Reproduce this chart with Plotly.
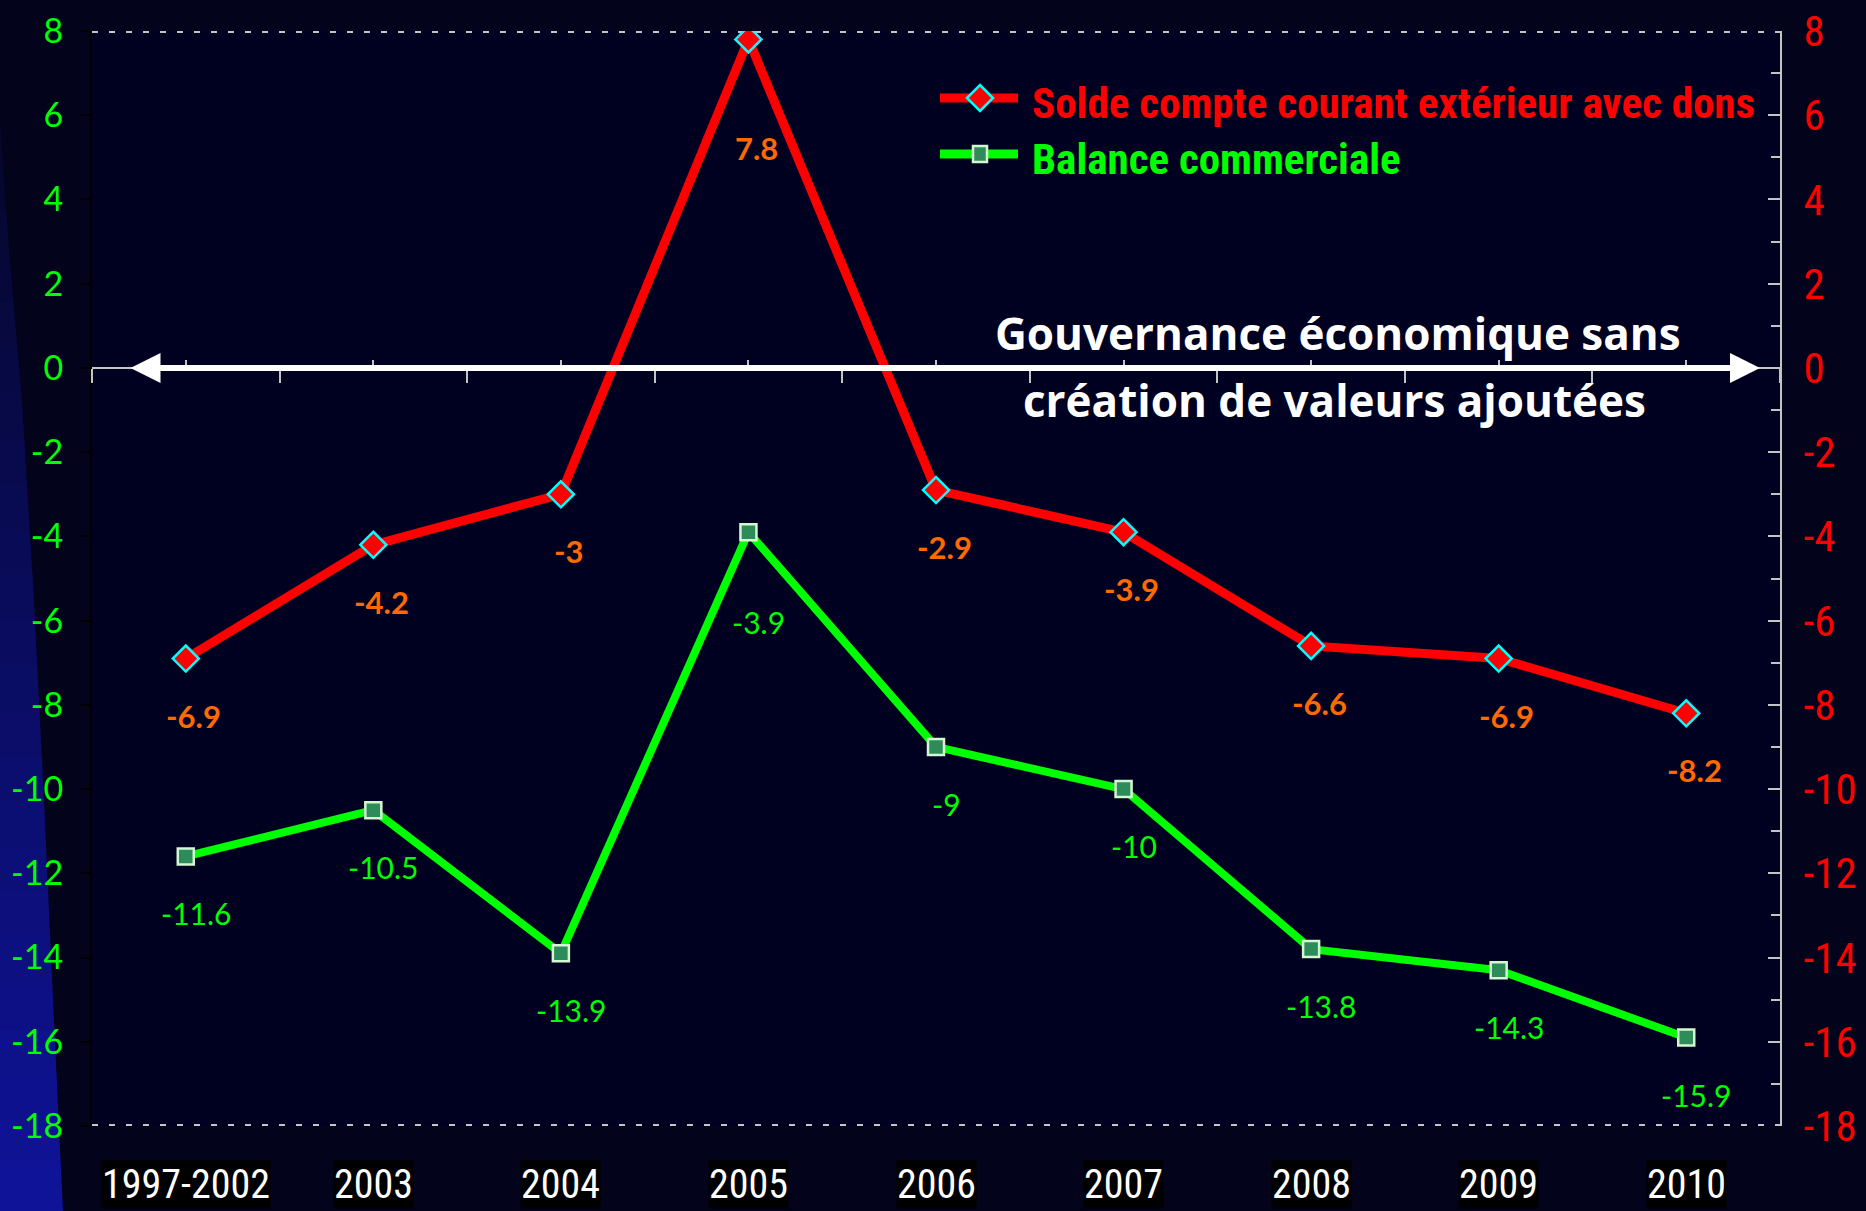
import plotly.graph_objects as go

# data
categories = ['1997-2002', '2003', '2004', '2005', '2006', '2007', '2008', '2009', '2010']
solde_courant = [-6.9, -4.2, -3, 7.8, -2.9, -3.9, -6.6, -6.9, -8.2]
balance_commerciale = [-11.6, -10.5, -13.9, -3.9, -9, -10, -13.8, -14.3, -15.9]
y_ticks = [-18, -16, -14, -12, -10, -8, -6, -4, -2, 0, 2, 4, 6, 8]
y_tick_text = ['-18', '-16', '-14', '-12', '-10', '-8', '-6', '-4', '-2', '0', '2', '4', '6', '8']

name_solde = 'Solde compte courant extérieur avec dons'
name_balance = 'Balance commerciale'
title_lines = ['Gouvernance économique sans', 'création de valeurs ajoutées']

# page geometry
W, H = 1866, 1211
L, R, T, B = 92, 86, 31, 85
PW, PH = W - L - R, H - T - B

NARROW = 'Liberation Sans Narrow, Arial Narrow, Roboto Condensed, sans-serif'
RED = '#FF0000'
GREEN = '#00FF00'
ORANGE = '#FF6A00'
GREY = '#C4C4C4'
CYAN = '#00FFFF'
SQ_FILL = '#2E8B5A'
SQ_EDGE = '#D2F7D2'

y_range = [min(y_ticks), max(y_ticks)]
x_range = [-0.5, len(categories) - 0.5]


def px_x(px):
    return (px - L) / PW


def px_y(py):
    return (H - B - py) / PH


zero_pos = (0 - y_range[0]) / (y_range[1] - y_range[0])

fig = go.Figure()

fig.add_trace(go.Scatter(
    x=categories, y=balance_commerciale, name=name_balance,
    mode='lines+markers',
    line=dict(color=GREEN, width=8),
    marker=dict(symbol='square', size=16, color=SQ_FILL,
                line=dict(color=SQ_EDGE, width=2.5)),
    showlegend=False,
))
fig.add_trace(go.Scatter(
    x=categories, y=solde_courant, name=name_solde,
    xaxis='x2', yaxis='y2',
    mode='lines+markers',
    line=dict(color=RED, width=9),
    marker=dict(symbol='diamond', size=20, color=RED,
                line=dict(color=CYAN, width=2.5)),
    showlegend=False,
))

annotations = []

# data labels
for i, v in enumerate(solde_courant):
    annotations.append(dict(
        x=i, y=v, xref='x2', yref='y2', text=f'{v:g}', showarrow=False,
        xanchor='center', yanchor='middle',
        xshift=8, yshift=-109 if v == max(solde_courant) else -57,
        font=dict(family='Lato', size=31, color=ORANGE, weight='bold'),
    ))
for i, v in enumerate(balance_commerciale):
    annotations.append(dict(
        x=i, y=v, xref='x', yref='y', text=f'{v:g}', showarrow=False,
        xanchor='center', yanchor='middle',
        xshift=10, yshift=-90 if v == max(balance_commerciale) else -57,
        font=dict(family='Lato', size=30, color=GREEN),
    ))

# category labels on black boxes at the bottom
for i, c in enumerate(categories):
    annotations.append(dict(
        x=i, y=0, xref='x', yref='paper', xanchor='center', yanchor='top', yshift=-34,
        text=c, showarrow=False, bgcolor='black', borderpad=0,
        font=dict(family=NARROW, size=40, color='white'),
    ))

# title text over the zero line
for line, (cx, cy) in zip(title_lines, [(1338, 333), (1334, 400)]):
    annotations.append(dict(
        x=px_x(cx), y=px_y(cy), xref='paper', yref='paper',
        xanchor='center', yanchor='middle',
        text=f'<b>{line}</b>', showarrow=False,
        font=dict(family='Open Sans', size=44, color='white'),
    ))

# double-headed white arrow along zero
annotations.append(dict(
    xref='x domain', yref='y', axref='x domain', ayref='y',
    x=px_x(1760), y=0, ax=px_x(129), ay=0, text='',
    showarrow=True, arrowside='end+start', arrowhead=2, arrowsize=1,
    arrowwidth=6, arrowcolor='white', standoff=0, startstandoff=0,
))

shapes = []

# dotted frame at top and bottom
for yv in y_range:
    shapes.append(dict(
        type='line', xref='paper', yref='y', x0=0, x1=1, y0=yv, y1=yv,
        line=dict(color=GREY, width=4, dash='6px,11px'), layer='below',
    ))

# legend drawn by hand: long line, centred symbol, coloured bold label
legend_items = [
    (name_solde, RED, 98, 'M -13 0 L 0 13 L 13 0 L 0 -13 Z', RED, CYAN),
    (name_balance, GREEN, 154, 'M -7 -8 L 7 -8 L 7 8 L -7 8 Z', SQ_FILL, SQ_EDGE),
]
for label, col, ly, sym, fill, edge_col in legend_items:
    shapes.append(dict(
        type='line', xref='paper', yref='paper',
        x0=px_x(940), x1=px_x(1018), y0=px_y(ly), y1=px_y(ly),
        line=dict(color=col, width=9),
    ))
    shapes.append(dict(
        type='path', xref='paper', yref='paper',
        xsizemode='pixel', ysizemode='pixel',
        xanchor=px_x(980), yanchor=px_y(ly), path=sym,
        fillcolor=fill, line=dict(color=edge_col, width=2.5),
    ))
    annotations.append(dict(
        x=px_x(1030), y=px_y(ly + 5), xref='paper', yref='paper',
        xanchor='left', yanchor='middle', showarrow=False,
        text=f'<b>{label}</b>',
        font=dict(family=NARROW, size=43, color=col),
    ))

# blue band on the left edge of the slide
edge = [(120, 0), (250, 9), (400, 22), (600, 34), (800, 44), (1000, 53), (1211, 63)]
top_rgb = (6, 7, 45)
bot_rgb = (15, 19, 152)
steps = 24
y_top, y_bot = edge[0][0], edge[-1][0]


def edge_x(py):
    for (ya, xa), (yb, xb) in zip(edge[:-1], edge[1:]):
        if ya <= py <= yb:
            return xa + (xb - xa) * (py - ya) / (yb - ya)
    return edge[-1][1]


for k in range(steps):
    ya = y_top + (y_bot - y_top) * k / steps
    yb = y_top + (y_bot - y_top) * (k + 1) / steps + 1
    t = k / (steps - 1)
    col = 'rgb({},{},{})'.format(*[int(a + (b - a) * t) for a, b in zip(top_rgb, bot_rgb)])
    path = 'M {} {} L {} {} L {} {} L {} {} Z'.format(
        px_x(0), px_y(ya), px_x(edge_x(ya)), px_y(ya),
        px_x(edge_x(yb)), px_y(yb), px_x(0), px_y(yb))
    shapes.append(dict(type='path', xref='paper', yref='paper', path=path,
                       fillcolor=col, line=dict(width=0), layer='below'))

fig.update_layout(
    width=W, height=H,
    margin=dict(l=L, r=R, t=T, b=B, autoexpand=False),
    paper_bgcolor='#03031B',
    plot_bgcolor='#000020',
    showlegend=False,
    xaxis=dict(
        type='category', categoryarray=categories, range=x_range,
        anchor='free', position=zero_pos, showgrid=False, zeroline=False,
        showline=True, linecolor=GREY, linewidth=2,
        ticks='outside', tickson='boundaries', ticklen=14, tickwidth=2, tickcolor=GREY,
        showticklabels=False, automargin=False,
    ),
    xaxis2=dict(
        type='category', categoryarray=categories, range=x_range,
        overlaying='x', anchor='free', position=zero_pos, showgrid=False, zeroline=False,
        showline=False, ticks='inside', ticklen=8, tickwidth=2, tickcolor=GREY,
        showticklabels=False, automargin=False,
    ),
    yaxis=dict(
        range=y_range, tickvals=y_ticks, ticktext=y_tick_text,
        showgrid=False, zeroline=False,
        showline=True, linecolor='black', linewidth=2,
        ticks='outside', ticklen=9, tickwidth=2, tickcolor='black',
        ticklabelstandoff=11, automargin=False,
        tickfont=dict(family='Lato', size=34, color=GREEN),
    ),
    yaxis2=dict(
        range=y_range, tickvals=y_ticks, ticktext=y_tick_text,
        overlaying='y', side='right', anchor='x2',
        showgrid=False, zeroline=False,
        showline=True, linecolor=GREY, linewidth=2,
        ticks='inside', ticklen=12, tickwidth=2, tickcolor=GREY,
        minor=dict(dtick=1, ticks='inside', ticklen=9, tickwidth=2, tickcolor=GREY),
        ticklabelstandoff=13, automargin=False,
        tickfont=dict(family=NARROW, size=43, color=RED),
    ),
    annotations=annotations,
    shapes=shapes,
    hovermode='closest',
)

fig.write_html(
    'out.html',
    config={'displayModeBar': False},
    post_script="document.body.style.margin='0';document.body.style.overflow='hidden';",
)
